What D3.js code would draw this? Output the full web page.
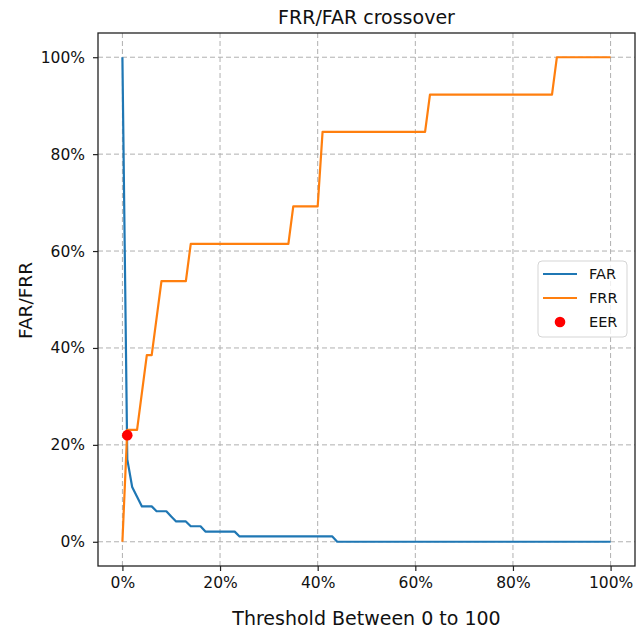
<!DOCTYPE html>
<html>
<head>
<meta charset="utf-8">
<script src="https://cdn.jsdelivr.net/npm/d3@7"></script>
<style>
  html, body { margin: 0; padding: 0; background: #fff; }
  svg { display: block; font-family: "DejaVu Sans", sans-serif; }
</style>
</head>
<body>
<svg id="chart" width="642" height="631"></svg>
<script>
// Threshold vertices (0..100) and the rates at each vertex
const farThresholds = [0, 1, 2, 3, 4, 6, 7, 9, 10, 11, 13, 14, 16, 17, 23, 24, 43, 44, 100];
const farValues     = [1.0, 0.17, 0.113, 0.093, 0.073, 0.073, 0.063, 0.063, 0.052, 0.042, 0.042, 0.032, 0.032, 0.021, 0.021, 0.011, 0.011, 0, 0];

const frrThresholds = [0, 1, 3, 5, 6, 8, 13, 14, 34, 35, 40, 41, 62, 63, 88, 89, 100];
const frrValues     = [0, 0.231, 0.231, 0.385, 0.385, 0.538, 0.538, 0.615, 0.615, 0.692, 0.692, 0.846, 0.846, 0.923, 0.923, 1.0, 1.0];

const eerThreshold = [1];
const eerValue = [0.22];

const xTicks = [0, 20, 40, 60, 80, 100];
const xTickLabels = ["0%", "20%", "40%", "60%", "80%", "100%"];
const yTicks = [0, 0.2, 0.4, 0.6, 0.8, 1.0];
const yTickLabels = ["0%", "20%", "40%", "60%", "80%", "100%"];

const seriesNames = ["FAR", "FRR", "EER"];
const colors = { FAR: "#1f77b4", FRR: "#ff7f0e", EER: "#ff0000" };

const svg = d3.select("#chart");
const plot = { left: 98, right: 635, top: 33, bottom: 566 };

const x = d3.scaleLinear().domain([-5, 105]).range([plot.left, plot.right]);
const y = d3.scaleLinear().domain([-0.05, 1.05]).range([plot.bottom, plot.top]);

// grid
const grid = svg.append("g").attr("class", "grid");
grid.selectAll("line.vx").data(xTicks).join("line")
  .attr("x1", d => x(d)).attr("x2", d => x(d))
  .attr("y1", plot.top).attr("y2", plot.bottom)
  .attr("stroke", "#b0b0b0").attr("stroke-width", 1).attr("stroke-dasharray", "5,3");
grid.selectAll("line.hy").data(yTicks).join("line")
  .attr("x1", plot.left).attr("x2", plot.right)
  .attr("y1", d => y(d)).attr("y2", d => y(d))
  .attr("stroke", "#b0b0b0").attr("stroke-width", 1).attr("stroke-dasharray", "5,3");

// lines
const line = d3.line().x(d => x(d[0])).y(d => y(d[1]));
const farPts = farThresholds.map((t, i) => [t, farValues[i]]);
const frrPts = frrThresholds.map((t, i) => [t, frrValues[i]]);

svg.append("path").datum(farPts).attr("d", line)
  .attr("fill", "none").attr("stroke", colors.FAR).attr("stroke-width", 2.2)
  .attr("stroke-linejoin", "round");
svg.append("path").datum(frrPts).attr("d", line)
  .attr("fill", "none").attr("stroke", colors.FRR).attr("stroke-width", 2.2)
  .attr("stroke-linejoin", "round");

svg.selectAll("circle.eer").data(eerThreshold.map((t, i) => [t, eerValue[i]])).join("circle")
  .attr("class", "eer")
  .attr("cx", d => x(d[0])).attr("cy", d => y(d[1])).attr("r", 5.3)
  .attr("fill", colors.EER);

// axes
const xAxis = d3.axisBottom(x).tickValues(xTicks).tickFormat((d, i) => xTickLabels[i]).tickSize(5).tickPadding(6);
const yAxis = d3.axisLeft(y).tickValues(yTicks).tickFormat((d, i) => yTickLabels[i]).tickSize(5).tickPadding(8);

const gx = svg.append("g").attr("transform", `translate(0,${plot.bottom})`).call(xAxis);
const gy = svg.append("g").attr("transform", `translate(${plot.left},0)`).call(yAxis);
[gx, gy].forEach(g => {
  g.select(".domain").remove();
  g.selectAll(".tick line").attr("stroke", "#222").attr("stroke-width", 1.2);
  g.selectAll(".tick text").attr("fill", "#111").style("font-size", "15.5px")
    .style("font-family", "DejaVu Sans, sans-serif");
});

// frame
svg.append("rect")
  .attr("x", plot.left).attr("y", plot.top)
  .attr("width", plot.right - plot.left).attr("height", plot.bottom - plot.top)
  .attr("fill", "none").attr("stroke", "#222").attr("stroke-width", 1.3);

// title and labels
svg.append("text").attr("x", (plot.left + plot.right) / 2).attr("y", 24)
  .attr("text-anchor", "middle").style("font-size", "19px").attr("fill", "#111")
  .text("FRR/FAR crossover");
svg.append("text").attr("x", (plot.left + plot.right) / 2).attr("y", 625)
  .attr("text-anchor", "middle").style("font-size", "19px").attr("fill", "#111")
  .text("Threshold Between 0 to 100");
svg.append("text").attr("transform", `translate(32,${(plot.top + plot.bottom) / 2 + 1}) rotate(-90)`)
  .attr("text-anchor", "middle").style("font-size", "18.5px").attr("fill", "#111")
  .text("FAR/FRR");

// legend
const legend = svg.append("g").attr("transform", "translate(538,261)");
legend.append("rect").attr("width", 89).attr("height", 76).attr("rx", 4)
  .attr("fill", "#fff").attr("fill-opacity", 0.8)
  .attr("stroke", "#d5d5d5").attr("stroke-width", 1);
const rows = legend.selectAll("g.row").data(seriesNames).join("g")
  .attr("transform", (d, i) => `translate(0,${13 + i * 24})`);
rows.filter(d => d !== "EER").append("line")
  .attr("x1", 5).attr("x2", 39).attr("y1", 0).attr("y2", 0)
  .attr("stroke", d => colors[d]).attr("stroke-width", 2.2);
rows.filter(d => d === "EER").append("circle")
  .attr("cx", 22).attr("cy", 0).attr("r", 5.3).attr("fill", colors.EER);
rows.append("text").attr("x", 51).attr("y", 0).attr("dy", "0.35em")
  .style("font-size", "14.5px").attr("fill", "#111").text(d => d);
</script>
</body>
</html>
